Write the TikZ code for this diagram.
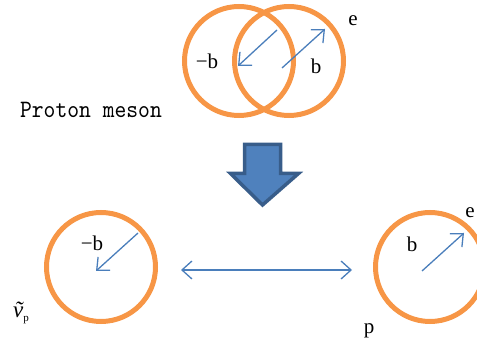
\documentclass[tikz,border=0pt]{standalone}
\usepackage{fontspec}
\setmainfont{Liberation Serif}
\newfontfamily\monof[FakeStretch=0.9]{lmmono10-regular.otf}
\usetikzlibrary{arrows.meta}
\definecolor{ringc}{HTML}{F79646}
\definecolor{vecc}{HTML}{4A7EBB}
\definecolor{bigfill}{HTML}{4F81BD}
\definecolor{bigdraw}{HTML}{385D8A}
\begin{document}
\begin{tikzpicture}[x=1pt,y=-1pt,
  ring/.style={circle,draw=ringc,line width=5pt,minimum size=109pt,inner sep=0pt},
  vecarrow/.style={draw=vecc,line width=1.3pt,-{Straight Barb[length=10pt,width=18pt,line width=1.3pt]}},
  dblarrow/.style={draw=vecc,line width=1.3pt,{Straight Barb[length=10pt,width=18pt,line width=1.3pt]}-{Straight Barb[length=10pt,width=18pt,line width=1.3pt]}},
  lbl/.style={font=\fontsize{21}{21}\selectfont,inner sep=0pt}]
\useasboundingbox (0,0) rectangle (477,347);

% top: proton meson
\node[ring] (c1) at (239,61) {};
\node[ring] (c2) at (289,61) {};
\coordinate (a1s) at (277,30);
\coordinate (a1e) at (238,66);
\coordinate (a2s) at (282,68);
\coordinate (a2e) at (325,29);
\draw[vecarrow] (a1s) -- (a1e);
\draw[vecarrow] (a2s) -- (a2e);
\node[lbl] (mb1) at (207,61) {−b};
\node[lbl] (b1) at (316,66) {b};
\node[lbl] (e1) at (353,21) {e};
\node[inner sep=0pt,font=\monof\fontsize{25}{25}\selectfont] (pm) at (91,110) {Proton meson};

% big down arrow
\draw[fill=bigfill,draw=bigdraw,line width=3.5pt,line join=miter]
  (244.5,144.5) -- (280.5,144.5) -- (280.5,173.5) -- (298.5,173.5)
  -- (262.5,205) -- (230.5,173.5) -- (244.5,173.5) -- cycle;

% bottom left
\node[ring] (c3) at (101,267) {};
\coordinate (a3s) at (138,233);
\coordinate (a3e) at (96,271);
\draw[vecarrow] (a3s) -- (a3e);
\node[lbl] (mb2) at (92,243) {−b};
\node[inner sep=0pt,font=\fontsize{23}{23}\selectfont] (nu) at (21,313)
  {\itshape\~v\upshape\raisebox{-4pt}{\fontsize{11}{11}\selectfont p}};

% double arrow
\coordinate (d1) at (181,270);
\coordinate (d2) at (352,270);
\draw[dblarrow] (d1) -- (d2);

% bottom right
\node[ring] (c4) at (430,267) {};
\coordinate (a4s) at (422,271);
\coordinate (a4e) at (464,233);
\draw[vecarrow] (a4s) -- (a4e);
\node[lbl] (b2) at (412,244) {b};
\node[lbl] (e2) at (470,213) {e};
\node[lbl] (p) at (369,331) {p};
\end{tikzpicture}
\end{document}
